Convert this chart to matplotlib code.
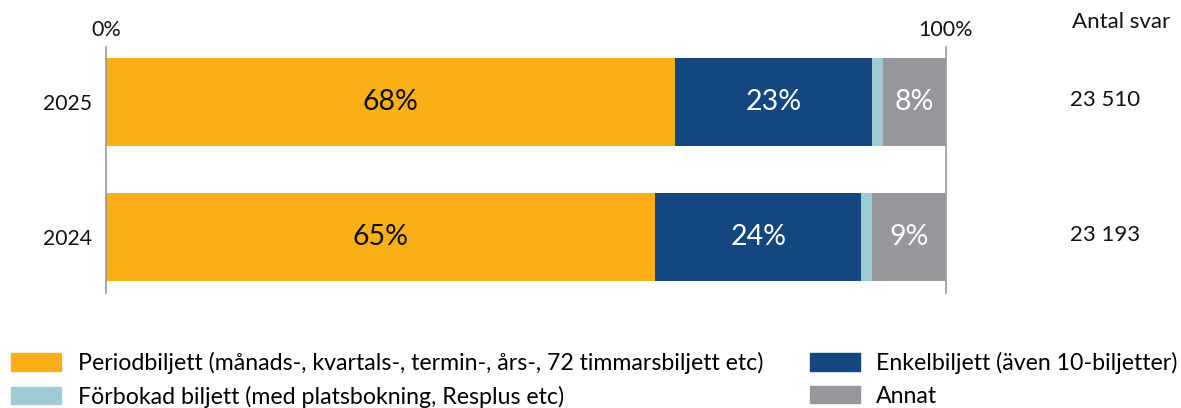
import matplotlib
matplotlib.use("Agg")
import matplotlib.pyplot as plt
from matplotlib.patches import Patch

plt.rcParams['font.family'] = ['Lato', 'DejaVu Sans']

years = ["2025", "2024"]
categories = [
    "Periodbiljett (månads-, kvartals-, termin-, års-, 72 timmarsbiljett etc)",
    "Enkelbiljett (även 10-biljetter)",
    "Förbokad biljett (med platsbokning, Resplus etc)",
    "Annat",
]
periodbiljett = [67.7, 65.4]
enkelbiljett = [23.5, 24.5]
forbokad = [1.3, 1.3]
annat = [7.5, 8.8]
labels_period = ["68%", "65%"]
labels_enkel = ["23%", "24%"]
labels_annat = ["8%", "9%"]
antal_svar = ["23 510", "23 193"]

colors = ["#FBAF17", "#144780", "#9ECBD3", "#96979B"]
text_colors = ["#111111", "white", None, "white"]

W, H = 1181, 408
fig = plt.figure(figsize=(W / 100, H / 100), dpi=100)
top_px, bot_px = 47, 293
ax = fig.add_axes([106 / W, 1 - bot_px / H, (946 - 106) / W, (bot_px - top_px) / H])

ypos = [0, 1]
bar_h = 88 / 135
series = [periodbiljett, enkelbiljett, forbokad, annat]
series_labels = [labels_period, labels_enkel, None, labels_annat]
left = [0.0, 0.0]
for s, vals in enumerate(series):
    bars = ax.barh(ypos, vals, left=left, height=bar_h, color=colors[s], label=categories[s])
    if series_labels[s] is not None:
        for i, b in enumerate(bars):
            ax.text(b.get_x() + b.get_width() / 2, b.get_y() + b.get_height() / 2,
                    series_labels[s][i], ha='center', va='center',
                    color=text_colors[s], fontsize=20.5)
    left = [l + v for l, v in zip(left, vals)]

ax.set_xlim(0, 100)
ax.set_ylim((bot_px - 102) / 135, (top_px - 102) / 135)
ax.set_yticks(ypos)
ax.set_yticklabels(years, fontsize=15.2)
ax.set_xticks([0, 100])
ax.set_xticklabels(["0%", "100%"], fontsize=15.5)
ax.xaxis.tick_top()
ax.tick_params(axis='both', length=0, pad=5, colors='#111111')
ax.tick_params(axis='y', pad=10)
for side in ['top', 'bottom']:
    ax.spines[side].set_visible(False)
for side in ['left', 'right']:
    ax.spines[side].set_color('#999999')
    ax.spines[side].set_linewidth(1.2)

# Antal svar column
fig.text(1072 / W, 1 - 22 / H, "Antal svar", fontsize=16, ha='left', va='center', color='#111111')
for i, n in enumerate(antal_svar):
    y_fig = 1 - (100 + 135 * i) / H
    fig.text(1070 / W, y_fig, n, fontsize=16, ha='left', va='center', color='#111111')

handles = [Patch(color=colors[0]), Patch(color=colors[2]), Patch(color=colors[1]), Patch(color=colors[3])]
leg_labels = [categories[0], categories[2], categories[1], categories[3]]
fig.legend(handles, leg_labels, loc='upper left', bbox_to_anchor=(11 / W, 1 - 352 / H),
           ncol=2, frameon=False, fontsize=16.7, borderpad=0, borderaxespad=0,
           handlelength=2.15, handleheight=0.78, handletextpad=0.72,
           columnspacing=2.02, labelspacing=0.5)

fig.savefig("out.png", dpi=100)
